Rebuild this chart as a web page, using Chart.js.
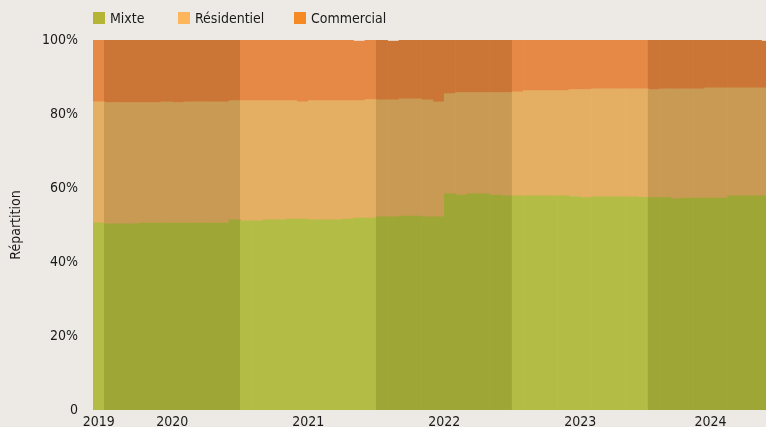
<!DOCTYPE html>
<html lang="fr">
<head>
<meta charset="utf-8">
<script src="https://cdn.jsdelivr.net/npm/chart.js@4.4.1/dist/chart.umd.min.js"></script>
<style>
  html, body { margin: 0; padding: 0; background: #edeae5; overflow: hidden; }
  #wrap { position: relative; width: 766px; height: 440px; }
  #legend { position: absolute; left: 93px; top: 10px; display: flex; font: 14px "Liberation Sans Narrow", "DejaVu Sans Condensed", sans-serif; color: #1a1a1a; }
  .item { display: flex; align-items: center; }
  .item:nth-child(1) { width: 85px; }
  .item:nth-child(2) { width: 116px; }
  .box { width: 12px; height: 12px; margin-right: 5px; }
</style>
</head>
<body>
<div id="wrap">
  <div id="legend"></div>
  <canvas id="chart" width="766" height="440"></canvas>
</div>
<script>
// months from Dec 2019 to Nov 2024
const months = [];
for (let i = 0; i < 60; i++) {
  const m = (11 + i) % 12 + 1;
  const y = 2019 + Math.floor((11 + i) / 12);
  months.push(y + "-" + String(m).padStart(2, "0"));
}

const years = ["2019", "2020", "2021", "2022", "2023", "2024"];

// parts in %
const mixte = [
  50.6,
  50.3, 50.3, 50.3, 50.5, 50.5, 50.5, 50.5, 50.5, 50.5, 50.5, 50.5, 51.4,
  51.1, 51.1, 51.4, 51.4, 51.6, 51.6, 51.4, 51.4, 51.4, 51.6, 51.9, 51.9,
  52.2, 52.2, 52.4, 52.4, 52.2, 52.2, 58.4, 58.1, 58.4, 58.4, 58.1, 57.9,
  57.9, 57.9, 57.9, 57.9, 57.9, 57.7, 57.4, 57.6, 57.6, 57.6, 57.6, 57.5,
  57.4, 57.4, 57.1, 57.3, 57.3, 57.3, 57.3, 57.9, 57.9, 57.9, 57.9
];
const residentiel = [
  32.7,
  32.8, 32.8, 32.8, 32.6, 32.6, 32.8, 32.6, 32.8, 32.8, 32.8, 32.8, 32.2,
  32.5, 32.5, 32.2, 32.2, 32.0, 31.7, 32.2, 32.2, 32.2, 32.0, 31.7, 32.0,
  31.6, 31.6, 31.7, 31.7, 31.6, 31.1, 27.1, 27.7, 27.4, 27.4, 27.7, 27.9,
  28.1, 28.4, 28.4, 28.4, 28.4, 28.9, 29.2, 29.2, 29.2, 29.2, 29.2, 29.3,
  29.2, 29.4, 29.7, 29.5, 29.5, 29.8, 29.8, 29.2, 29.2, 29.2, 29.2
];
const commercial = [
  16.7,
  16.9, 16.9, 16.9, 16.9, 16.9, 16.7, 16.9, 16.7, 16.7, 16.7, 16.7, 16.4,
  16.4, 16.4, 16.4, 16.4, 16.4, 16.7, 16.4, 16.4, 16.4, 16.4, 16.1, 16.1,
  16.2, 15.9, 15.9, 15.9, 16.2, 16.7, 14.5, 14.2, 14.2, 14.2, 14.2, 14.2,
  14.0, 13.7, 13.7, 13.7, 13.7, 13.4, 13.4, 13.2, 13.2, 13.2, 13.2, 13.2,
  13.4, 13.2, 13.2, 13.2, 13.2, 12.9, 12.9, 12.9, 12.9, 12.9, 12.6
];

const FONT = "'Liberation Sans Narrow', 'DejaVu Sans Condensed', sans-serif";

// even years are shaded darker
function bandColor(light, dark) {
  return ctx => {
    const y = parseInt(months[ctx.dataIndex], 10);
    return y % 2 === 0 ? dark : light;
  };
}

function toPoints(values) {
  return values.map((v, i) => ({ x: i, y: v }));
}

// tick position of each year = middle of its months
const yearTicks = years.map(y => {
  const idx = months.map((m, i) => m.startsWith(y) ? i : -1).filter(i => i >= 0);
  return (idx[0] + idx[idx.length - 1]) / 2;
});

const series = [
  { label: "Mixte", data: mixte, legend: "#b5b436", light: "#b3bd45", dark: "#9ea636" },
  { label: "Résidentiel", data: residentiel, legend: "#fdb65b", light: "#e4af62", dark: "#c99a53" },
  { label: "Commercial", data: commercial, legend: "#f58a24", light: "#e68846", dark: "#cb7537" }
];

const legend = document.getElementById("legend");
series.forEach(s => {
  const item = document.createElement("div");
  item.className = "item";
  item.innerHTML = `<span class="box" style="background:${s.legend}"></span><span>${s.label}</span>`;
  legend.appendChild(item);
});

new Chart(document.getElementById("chart").getContext("2d"), {
  type: "bar",
  data: {
    datasets: series.map(s => ({
      label: s.label,
      data: toPoints(s.data),
      backgroundColor: bandColor(s.light, s.dark),
      borderWidth: 0,
      barPercentage: 1,
      categoryPercentage: 1
    }))
  },
  options: {
    responsive: false,
    animation: false,
    layout: { padding: { top: 40, right: 0, left: 0, bottom: 0 } },
    plugins: {
      legend: { display: false },
      tooltip: { enabled: false }
    },
    scales: {
      x: {
        type: "linear",
        stacked: true,
        offset: false,
        min: -0.5,
        max: 58.9,
        grid: { display: false, drawTicks: false },
        border: { display: false },
        afterBuildTicks: scale => {
          scale.ticks = yearTicks.map(v => ({ value: v }));
        },
        afterFit: scale => { scale.height = 30; },
        ticks: {
          autoSkip: false,
          maxRotation: 0,
          padding: 4,
          color: "#1a1a1a",
          font: { family: FONT, size: 14 },
          callback: (value, index) => years[index]
        }
      },
      y: {
        stacked: true,
        min: 0,
        max: 100,
        grid: { display: false, drawTicks: false },
        border: { display: false },
        afterFit: scale => { scale.width = 93; },
        ticks: {
          stepSize: 20,
          padding: 15,
          color: "#1a1a1a",
          font: { family: FONT, size: 14 },
          callback: v => v === 0 ? "0" : v + "%"
        },
        title: {
          display: true,
          text: "Répartition",
          color: "#1a1a1a",
          padding: { top: 8, bottom: 0 },
          font: { family: FONT, size: 14 }
        }
      }
    }
  }
});
</script>
</body>
</html>
